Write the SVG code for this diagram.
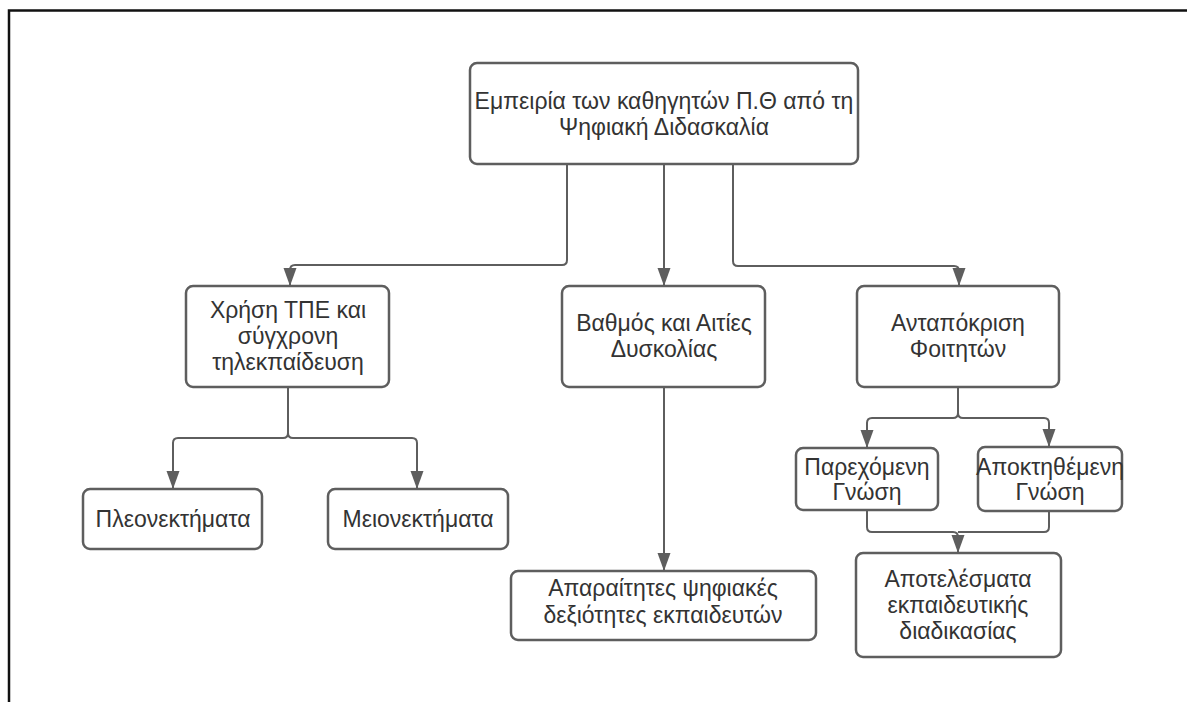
<svg xmlns="http://www.w3.org/2000/svg" width="1187" height="702" viewBox="0 0 1187 702">
<style>
.box{fill:#fff;stroke:#5e5e5e;stroke-width:2.5}
.t{font-family:"Liberation Sans",Arial,sans-serif;font-size:23px;fill:#333;text-anchor:middle}
.c{fill:none;stroke:#5e5e5e;stroke-width:2;stroke-linejoin:round}
.frame{stroke:#111;stroke-width:2.5;fill:none}
</style>
<defs>
<marker id="ah" markerUnits="userSpaceOnUse" markerWidth="18" markerHeight="14" refX="17" refY="7" orient="auto" viewBox="0 0 18 14">
<path d="M0,0.5 L18,7 L0,13.5 Z" fill="#5e5e5e"/>
</marker>
</defs>
<rect width="1187" height="702" fill="#fff"/>
<path class="frame" d="M9,702 V10.5 H1187"/>
<g id="connectors">
<path class="c" marker-end="url(#ah)" d="M567,164 V260 Q567,265 562,265 H295 Q290,265 290,270 V285"/>
<path class="c" marker-end="url(#ah)" d="M664,164 V285"/>
<path class="c" marker-end="url(#ah)" d="M733,164 V261 Q733,266 738,266 H954 Q959,266 959,271 V285"/>
<path class="c" marker-end="url(#ah)" d="M288,387 V433 Q288,438 283,438 H178 Q173,438 173,443 V488"/>
<path class="c" marker-end="url(#ah)" d="M288,387 V433 Q288,438 293,438 H412 Q417,438 417,443 V488"/>
<path class="c" marker-end="url(#ah)" d="M664,387 V570"/>
<path class="c" marker-end="url(#ah)" d="M958,387 V413 Q958,418 953,418 H872 Q867,418 867,423 V447"/>
<path class="c" marker-end="url(#ah)" d="M958,387 V413 Q958,418 963,418 H1044 Q1049,418 1049,423 V446"/>
<path class="c" marker-end="url(#ah)" d="M867,510 V527 Q867,532 872,532 H953 Q958,532 958,537 V552"/>
<path class="c" d="M1049,511 V527 Q1049,532 1044,532 H958"/>
</g>
<g id="n-root">
<rect class="box" x="470" y="63" width="388" height="101" rx="7"/>
<text class="t" x="664" y="109">Εμπειρία των καθηγητών Π.Θ από τη</text>
<text class="t" x="664" y="135">Ψηφιακή Διδασκαλία</text>
</g>
<g id="n-xrisi">
<rect class="box" x="186" y="286" width="203" height="101" rx="7"/>
<text class="t" x="288" y="318">Χρήση ΤΠΕ και</text>
<text class="t" x="288" y="344">σύγχρονη</text>
<text class="t" x="288" y="370">τηλεκπαίδευση</text>
</g>
<g id="n-vathmos">
<rect class="box" x="562" y="286" width="203" height="101" rx="7"/>
<text class="t" x="664" y="331">Βαθμός και Αιτίες</text>
<text class="t" x="664" y="357">Δυσκολίας</text>
</g>
<g id="n-antapokrisi">
<rect class="box" x="857" y="286" width="202" height="101" rx="7"/>
<text class="t" x="958" y="331">Ανταπόκριση</text>
<text class="t" x="958" y="357">Φοιτητών</text>
</g>
<g id="n-pleon">
<rect class="box" x="83" y="489" width="179" height="60" rx="7"/>
<text class="t" x="173" y="527">Πλεονεκτήματα</text>
</g>
<g id="n-meion">
<rect class="box" x="328" y="489" width="180" height="60" rx="7"/>
<text class="t" x="418" y="527">Μειονεκτήματα</text>
</g>
<g id="n-aparaitites">
<rect class="box" x="511" y="571" width="305" height="69" rx="7"/>
<text class="t" x="663" y="596">Απαραίτητες ψηφιακές</text>
<text class="t" x="663" y="623">δεξιότητες εκπαιδευτών</text>
</g>
<g id="n-parexomeni">
<rect class="box" x="796" y="448" width="142" height="62" rx="7"/>
<text class="t" x="867" y="475">Παρεχόμενη</text>
<text class="t" x="867" y="500">Γνώση</text>
</g>
<g id="n-apoktithemeni">
<rect class="box" x="978" y="447" width="144" height="64" rx="7"/>
<text class="t" x="1050" y="475">Αποκτηθέμενη</text>
<text class="t" x="1050" y="500">Γνώση</text>
</g>
<g id="n-apotelesmata">
<rect class="box" x="856" y="553" width="205" height="104" rx="7"/>
<text class="t" x="958" y="587">Αποτελέσματα</text>
<text class="t" x="958" y="613">εκπαιδευτικής</text>
<text class="t" x="958" y="639">διαδικασίας</text>
</g>
</svg>
